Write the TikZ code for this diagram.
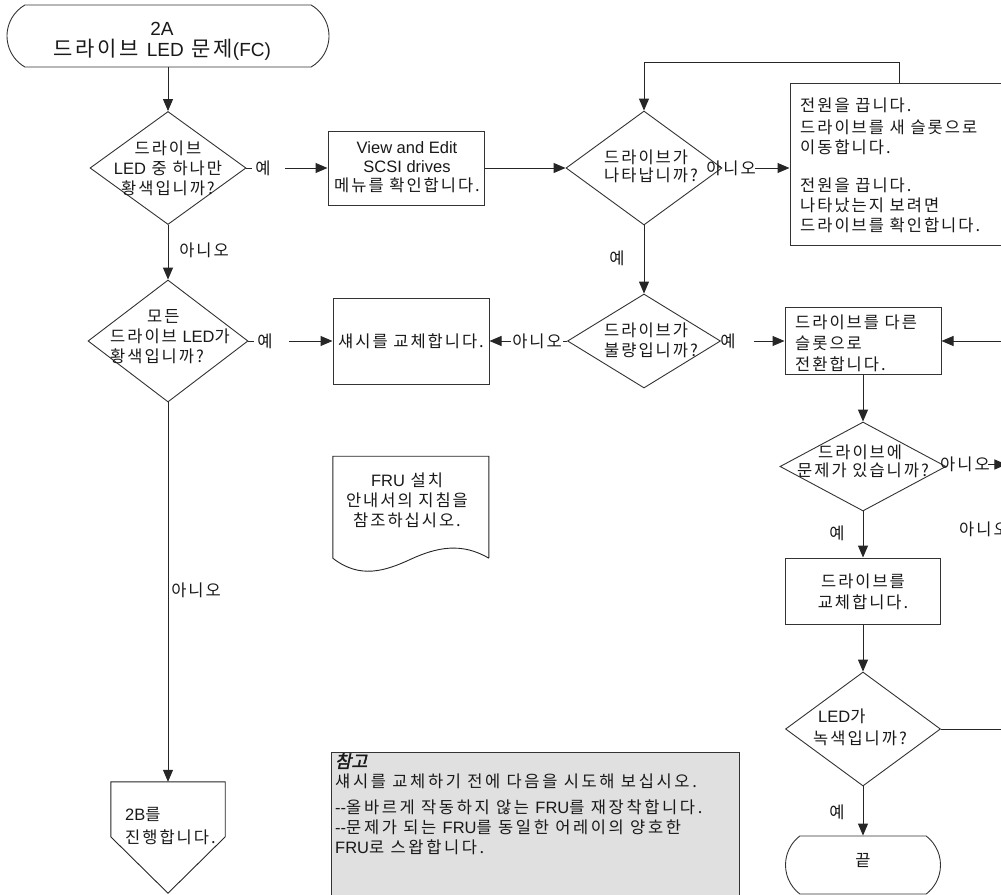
\documentclass[tikz,border=0pt]{standalone}
\usepackage{fontspec}
\setmainfont{Noto Sans CJK KR}[LetterSpace=12]
\newfontfamily\lat{Liberation Sans}
\newfontfamily\notehead{Noto Sans CJK KR}[FakeBold=2,FakeSlant=0.2]
\usetikzlibrary{arrows.meta,shapes.geometric,shapes.misc,calc}
\tikzset{
  ln/.style={draw=black!85,line width=1pt},
  arr/.style={ln,-{Triangle[length=12pt,width=10pt]}},
  box/.style={rectangle,draw=black!80,line width=1pt,inner sep=0pt},
  dia/.style={diamond,draw=black!80,line width=0.9pt,inner sep=0pt},
  term/.style={rounded rectangle,draw=black!80,line width=0.9pt,inner sep=0pt},
  ghost/.style={rectangle,draw=none,inner sep=0pt},
  txt/.style={font=\fontsize{16.5}{20}\selectfont,text=black!90,inner sep=0pt},
  notetxt/.style={font=\fontsize{16.5}{20}\selectfont\addfontfeature{LetterSpace=16},text=black!90,inner sep=0pt},
  hd/.style={font=\fontsize{21}{21}\selectfont\addfontfeature{LetterSpace=14},text=black!90,inner sep=0pt},
  blank/.style={fill=white,inner xsep=1pt,inner ysep=0pt}
}
\newcommand{\hdlat}[1]{{\lat\fontsize{19}{21}\selectfont #1}}
\begin{document}
\begin{tikzpicture}[x=1pt,y=-1pt]
\useasboundingbox (0,0) rectangle (1001,894);
\fill[white] (0,0) rectangle (1001,894);

% note box (drawn first)
\node[box, fill=black!12, anchor=north west, minimum width=408pt, minimum height=170pt] (note) at (331,752) {};
\node[notetxt, align=left, anchor=north west] (notet) at (335,753) {{\notehead\fontsize{17.5}{20}\selectfont 참고}\\섀시를 교체하기 전에 다음을 시도해 보십시오.\\[6pt]{\lat -{}-}올바르게 작동하지 않는 {\lat FRU}를 재장착합니다.\\{\lat -{}-}문제가 되는 {\lat FRU}를 동일한 어레이의 양호한\\{\lat FRU}로 스왑합니다.};

% start terminal
\node[term, minimum width=322pt, minimum height=62pt, rounded rectangle arc length=120] (start) at (168,36) {};
\node[hd, align=center] (startt) at (162,41) {\hdlat{2A}\\드라이브 \hdlat{LED} 문제\hdlat{(FC)}};

% decision 1
\node[dia, minimum width=156pt, minimum height=113pt] (d1) at (168,168) {};
\node[txt, align=center] (d1t) at (168,168) {드라이브\\{\lat LED} 중 하나만\\황색입니까?};

% box 1
\node[box, minimum width=156pt, minimum height=74pt] (b1) at (406,168) {};
\node[txt, align=center] (b1t) at (407,167) {{\lat View and Edit}\\[-1pt]{\lat SCSI drives}\\[-1pt]메뉴를 확인합니다.};

% decision 2
\node[dia, minimum width=156pt, minimum height=114pt] (d2) at (644,168) {};
\node[txt, align=left, anchor=west] (d2t) at (604,166) {드라이브가\\[-2pt]나타납니까?};

% box 2
\node[box, minimum width=218pt, minimum height=162pt] (b2) at (899,164) {};
\node[txt, align=left, anchor=north west] (b2t) at (800,98) {전원을 끕니다.\\[2pt]드라이브를 새 슬롯으로\\이동합니다.\\[18pt]전원을 끕니다.\\나타났는지 보려면\\드라이브를 확인합니다.};

% decision 3
\node[dia, minimum width=153pt, minimum height=94pt] (d3) at (644,341) {};
\node[txt, align=left, anchor=west] (d3t) at (604,340) {드라이브가\\불량입니까?};

% box 3
\node[box, minimum width=156pt, minimum height=86pt] (b3) at (411,341) {};
\node[txt] (b3t) at (411,341) {섀시를 교체합니다.};

% decision 4
\node[dia, minimum width=160pt, minimum height=122pt] (d4) at (168,341) {};
\node[txt, align=left, anchor=west] (d4t) at (110,337) {\hspace*{37pt}모든\\드라이브 {\lat LED}가\\황색입니까?};

% document
\node[ghost, minimum width=156pt, minimum height=102pt] (doc) at (411,507) {};
\begin{scope}[shift={(doc.south west)}]
\draw[ln, line width=0.9pt] (156,0) -- (156,-102) -- (0,-102) -- (0,0) .. controls (27,21) and (52,13) .. (78,1) .. controls (104,-11) and (129,-16) .. (156,0);
\end{scope}
\node[txt, align=center] (doct) at (407,500) {{\lat FRU} 설치\\안내서의 지침을\\참조하십시오.};

% off-page connector
\node[ghost, minimum width=114pt, minimum height=111pt] (op) at (168,837.5) {};
\draw[ln, line width=0.9pt] (op.north west) -- (op.north east) -- ($(op.north east)+(0,55)$) -- (op.south) -- ($(op.north west)+(0,55)$) -- cycle;
\node[txt, align=left, anchor=west] (opt) at (125,826) {{\lat 2B}를\\[3pt]진행합니다.};

% box 4
\node[box, minimum width=156pt, minimum height=67pt] (b4) at (863,341) {};
\node[txt, align=left, anchor=north west] (b4t) at (795,315) {드라이브를 다른\\[1pt]슬롯으로\\[1pt]전환합니다.};

% decision 5
\node[dia, minimum width=166pt, minimum height=89pt] (d5) at (863,466.5) {};
\node[txt, align=left, anchor=west] (d5t) at (797,461) {\hspace*{21pt}드라이브에\\[-2pt]문제가 있습니까?};

% box 5
\node[box, minimum width=155pt, minimum height=66pt] (b5) at (863,591) {};
\node[txt, align=center] (b5t) at (863,592) {드라이브를\\[1pt]교체합니다.};

% decision 6
\node[dia, minimum width=155pt, minimum height=114pt] (d6) at (863,729) {};
\node[txt, align=left, anchor=west] (d6t) at (813,727) {\hspace*{5pt}{\lat LED}가\\[2pt]녹색입니까?};

% end terminal
\node[term, minimum width=155pt, minimum height=58pt, rounded rectangle arc length=105] (end) at (863,865) {};
\node[txt] (endt) at (863,861) {끝};

% ---- connectors ----
\draw[arr] (start.south) -- (d1.north);

\draw[ln] (d1.east) -- ++(6,0);
\node[txt] (y1) at (263,168) {예};
\coordinate (y1s) at ($(d1.east)+(39,0)$);
\draw[arr] (y1s) -- (b1.west);

\draw[arr] (d1.south) -- (d4.north);
\node[txt] (n1) at (204,250) {아니오};

\draw[ln] (d4.east) -- ++(6,0);
\node[txt] (y4) at (265,341) {예};
\coordinate (y4s) at ($(d4.east)+(41,0)$);
\draw[arr] (y4s) -- (b3.west);

\draw[arr] (d4.south) -- (op.north);
\node[txt] (n4) at (196,590) {아니오};

\draw[arr] (b1.east) -- (d2.west);

\node[txt] (n2) at (731,168) {아니오};
\coordinate (n2s) at ($(d2.east)+(33,0)$);
\draw[arr] (n2s) -- (n2s -| b2.west);

\draw[arr] (b2.north) -- ++(0,-20) -| (d2.north);

\draw[arr] (d2.south) -- (d3.north);
\node[txt] (y2) at (617,258) {예};

\draw[arr] (d3.west) -- (b3.east);
\node[txt, blank] (n3) at (537,341) {아니오};

\node[txt] (y3) at (728,341) {예};
\coordinate (y3s) at ($(d3.east)+(33,0)$);
\draw[arr] (y3s) -- (b4.west);

\coordinate (rin) at (1010,341);
\draw[arr] (rin) -- (b4.east);

\draw[arr] (b4.south) -- (d5.north);

\node[txt, anchor=west] (n5) at (940,464) {아니오};
\coordinate (n5s) at ($(d5.east)+(42,-2)$);
\coordinate (n5e) at ($(d5.east)+(60,-2)$);
\draw[arr] (n5s) -- (n5e);
\node[txt, anchor=west] (n5b) at (959,529) {아니오};

\draw[arr] (d5.south) -- (b5.north);
\node[txt] (y5) at (837,533) {예};

\draw[arr] (b5.south) -- (d6.north);

\coordinate (rout) at (1010,729);
\draw[ln] (d6.east) -- (rout);

\draw[arr] (d6.south) -- (end.north);
\node[txt] (y6) at (837,812) {예};
\end{tikzpicture}
\end{document}
